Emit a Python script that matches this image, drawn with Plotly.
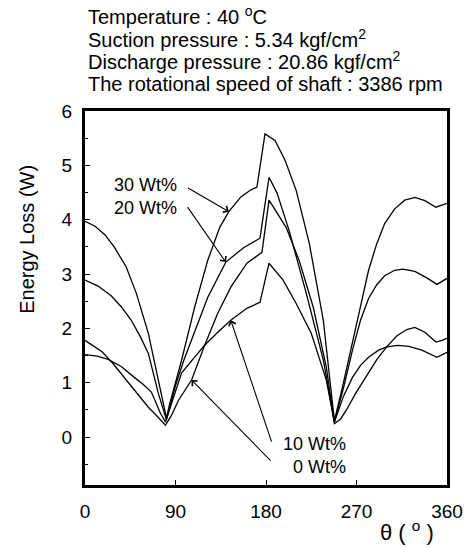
import numpy as np
import plotly.graph_objects as go

# ---- data (theta in degrees, energy loss in W) ----
theta_30 = [0, 10, 20, 29, 41, 51, 63, 72, 81, 84, 96, 109, 122, 134, 143, 155, 165, 171, 179, 189, 199, 210, 223, 237, 248, 257, 266, 274, 282, 290, 298, 308, 318, 328, 338, 349, 355, 360]
e_30 = [3.97, 3.88, 3.72, 3.5, 3.13, 2.65, 1.91, 1.1, 0.35, 0.6, 1.41, 2.39, 3.25, 3.86, 4.15, 4.42, 4.55, 4.6, 5.58, 5.46, 5.09, 4.54, 3.57, 2.15, 0.3, 1.0, 1.75, 2.45, 3.07, 3.55, 3.93, 4.2, 4.36, 4.41, 4.35, 4.23, 4.27, 4.30]

theta_20 = [0, 13, 26, 36, 46, 55, 63, 73, 81, 90, 98, 106, 122, 140, 158, 174, 183, 191, 203, 220, 237, 248, 257, 266, 274, 282, 290, 298, 308, 316, 328, 340, 350, 360]
e_20 = [2.89, 2.78, 2.6, 2.4, 2.15, 1.85, 1.54, 0.8, 0.32, 0.95, 1.4, 1.78, 2.57, 3.22, 3.49, 3.66, 4.78, 4.49, 3.8, 2.65, 1.42, 0.28, 0.9, 1.6, 2.15, 2.55, 2.8, 2.97, 3.07, 3.09, 3.05, 2.93, 2.81, 2.92]

theta_0 = [0, 17, 28, 39, 51, 63, 72, 80, 86, 93, 106, 119, 132, 145, 161, 176, 183, 190, 200, 213, 227, 240, 248, 254, 260, 269, 282, 290, 300, 310, 320, 328, 338, 349, 355, 360]
e_0 = [1.78, 1.57, 1.35, 1.1, 0.82, 0.55, 0.38, 0.22, 0.4, 0.68, 1.05, 1.69, 2.28, 2.76, 3.2, 3.4, 4.36, 4.15, 3.86, 3.25, 2.39, 1.29, 0.25, 0.33, 0.5, 0.8, 1.17, 1.42, 1.66, 1.86, 1.98, 2.02, 1.93, 1.75, 1.78, 1.82]

theta_10 = [0, 12, 23, 36, 49, 58, 66, 75, 80, 88, 96, 108, 119, 132, 145, 161, 174, 183, 197, 210, 225, 240, 248, 257, 266, 274, 282, 292, 300, 311, 322, 335, 350, 360]
e_10 = [1.52, 1.49, 1.43, 1.3, 1.1, 0.97, 0.83, 0.44, 0.28, 0.75, 1.18, 1.45, 1.69, 1.93, 2.15, 2.37, 2.48, 3.2, 2.89, 2.46, 1.91, 1.05, 0.28, 0.75, 1.1, 1.32, 1.47, 1.6, 1.66, 1.69, 1.67, 1.6, 1.47, 1.56]

series = [
    ("30 Wt%", theta_30, e_30),
    ("20 Wt%", theta_20, e_20),
    ("10 Wt%", theta_10, e_10),
    ("0 Wt%", theta_0, e_0),
]

x_ticks = [0, 90, 180, 270, 360]
y_ticks = [0, 1, 2, 3, 4, 5, 6]

header_lines = [
    "Temperature : 40 <sup>o</sup>C",
    "Suction pressure : 5.34 kgf/cm<sup>2</sup>",
    "Discharge pressure : 20.86 kgf/cm<sup>2</sup>",
    "The rotational speed of shaft : 3386 rpm",
]

# label placement: (label, text x, text y, anchor, tail x, tail y, tip theta)
labels = [
    ("30 Wt%", 93, 4.64, "right", 101, 4.6, 143),
    ("20 Wt%", 93, 4.22, "right", 101, 4.26, 140),
    ("10 Wt%", 262, -0.12, "right", 186, -0.11, 145),
    ("0 Wt%", 262, -0.54, "right", 186, -0.46, 106),
]

FONT = "Arial, Liberation Sans, sans-serif"

fig = go.Figure()
for name, th, e in series:
    fig.add_trace(go.Scatter(x=th, y=e, mode="lines", name=name,
                             line=dict(color="black", width=1.3),
                             showlegend=False))

W, H = 475, 548
L, R, T, B = 85, 23, 111, 63
plot_h = H - T - B
plot_w = W - L - R

annotations = []
for i, txt in enumerate(header_lines):
    py = 15 + i * 23
    annotations.append(dict(text=txt, xref="paper", yref="paper",
                            x=0.003, y=(H - B - py) / plot_h,
                            xanchor="left", yanchor="middle", showarrow=False,
                            font=dict(size=20, color="black", family=FONT)))

lookup = {name: (th, e) for name, th, e in series}
for name, tx, ty, anc, axx, ayy, tip in labels:
    th, e = lookup[name]
    tip_y = float(np.interp(tip, th, e))
    annotations.append(dict(text=name, x=tx, y=ty, xref="x", yref="y",
                            xanchor=anc, yanchor="middle", showarrow=False,
                            font=dict(size=18, color="black", family=FONT)))
    annotations.append(dict(text="", x=tip, y=tip_y, xref="x", yref="y",
                            ax=axx, ay=ayy, axref="x", ayref="y",
                            showarrow=True, arrowhead=4, arrowsize=1.3,
                            arrowwidth=1.1, arrowcolor="black"))

# axis titles
annotations.append(dict(text="Energy Loss (W)", xref="paper", yref="paper",
                        x=-(L - 26) / plot_w, y=(H - B - 239) / plot_h, textangle=-90,
                        xanchor="center", yanchor="middle", showarrow=False,
                        font=dict(size=20, color="black", family=FONT)))
annotations.append(dict(text="θ ( <sup>o</sup> )", xref="paper", yref="paper",
                        x=(411 - L) / plot_w, y=-(531 - (H - B)) / plot_h,
                        xanchor="center", yanchor="middle", showarrow=False,
                        font=dict(size=22, color="black", family=FONT)))

fig.update_layout(
    width=W, height=H,
    margin=dict(l=L, r=R, t=T, b=B),
    paper_bgcolor="white", plot_bgcolor="white",
    font=dict(family=FONT, color="black"),
    annotations=annotations,
)
fig.update_xaxes(range=[0, 360], tickvals=x_ticks, ticktext=[str(v) for v in x_ticks],
                 showgrid=False, zeroline=False, showline=True, linewidth=3,
                 linecolor="black", mirror=True, ticks="inside", ticklen=5,
                 tickcolor="black", tickfont=dict(size=19, color="black"),
                 ticklabelstandoff=7)
fig.update_yaxes(range=[-0.88, 6.0], tickvals=y_ticks, ticktext=[str(v) for v in y_ticks],
                 showgrid=False, zeroline=False, showline=True, linewidth=3,
                 linecolor="black", mirror=True, ticks="inside", ticklen=5,
                 tickcolor="black", tickfont=dict(size=19, color="black"),
                 ticklabelstandoff=6,
                 minor=dict(dtick=0.5, tick0=0, ticks="inside", ticklen=3,
                            tickcolor="black"))

fig.write_html("out.html")
